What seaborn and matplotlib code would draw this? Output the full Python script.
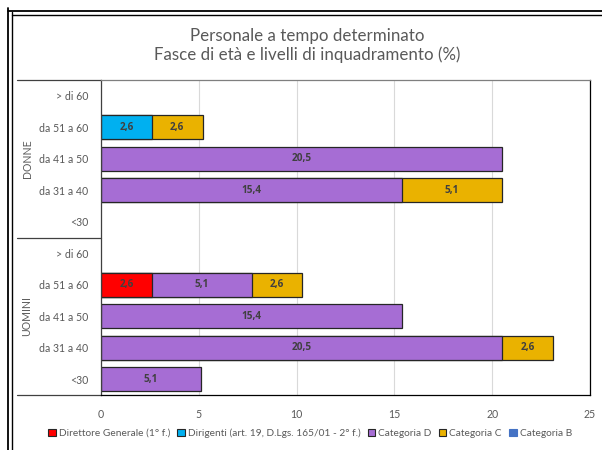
import matplotlib
matplotlib.use("Agg")
import matplotlib.pyplot as plt
import matplotlib.transforms as mtransforms
from matplotlib.patches import Patch
from matplotlib.lines import Line2D
import seaborn as sns
import pandas as pd
import numpy as np

# ---- data ----
groups = ["DONNE"] * 5 + ["UOMINI"] * 5
age_bands = ["> di 60", "da 51 a 60", "da 41 a 50", "da 31 a 40", "<30"] * 2
series_names = ["Direttore Generale (1° f.)", "Dirigenti (art. 19, D.Lgs. 165/01 - 2° f.)",
                "Categoria D", "Categoria C", "Categoria B"]
dir_generale = [0, 0, 0, 0, 0, 0, 2.6, 0, 0, 0]
dirigenti = [0, 2.6, 0, 0, 0, 0, 0, 0, 0, 0]
categoria_d = [0, 0, 20.5, 15.4, 0, 0, 5.1, 15.4, 20.5, 5.1]
categoria_c = [0, 2.6, 0, 5.1, 0, 0, 2.6, 0, 2.6, 0]
categoria_b = [0, 0, 0, 0, 0, 0, 0, 0, 0, 0]
colors = ["#FF0000", "#00B0F0", "#A66DD4", "#EAB200", "#4472C4"]
x_ticks = [0, 5, 10, 15, 20, 25]

series = [dir_generale, dirigenti, categoria_d, categoria_c, categoria_b]
keys = [f"{g}|{a}" for g, a in zip(groups, age_bands)]

sns.set_style("white")
plt.rcParams["font.family"] = ["Lato", "DejaVu Sans"]

fig = plt.figure(figsize=(6.02, 4.5), dpi=100)
W, H = 602, 450
ax = fig.add_axes([101 / W, 1 - 395 / H, (590 - 101) / W, (395 - 80) / H])

vals = np.array(series, dtype=float)  # shape (5, 10)
cum = np.cumsum(vals, axis=0)

# draw layers from the last to the first (cumulative overlay = stacked)
for k in range(len(series) - 1, -1, -1):
    df = pd.DataFrame({"key": keys, "value": cum[k], "seg": vals[k]})
    df = df[df["seg"] > 0]
    if df.empty:
        continue
    sns.barplot(data=df, x="value", y="key", order=keys, orient="h",
                color=colors[k], saturation=1, width=0.77,
                edgecolor="#262626", linewidth=0.9, ax=ax)

# data labels
for k in range(len(series)):
    for i in range(len(keys)):
        v = vals[k, i]
        if v > 0:
            center = cum[k, i] - v / 2
            ax.text(center, i, f"{v:.1f}".replace(".", ","), ha="center", va="center",
                    fontsize=7.2, fontweight="bold", color="#404040",
                    family=["Open Sans", "DejaVu Sans"])

ax.set_xlim(0, 25)
ax.set_ylim(len(keys) - 0.5, -0.5)
ax.set_xticks(x_ticks)
ax.set_xticklabels([str(t) for t in x_ticks])
ax.set_yticks(range(len(keys)))
ax.set_yticklabels(age_bands)
ax.set_xlabel("")
ax.set_ylabel("")
ax.tick_params(axis="both", length=0, labelsize=7.6, labelcolor="#595959")
ax.tick_params(axis="x", pad=10)
ax.tick_params(axis="y", pad=9)
ax.grid(axis="x", color="#D9D9D9", linewidth=0.8)
ax.set_axisbelow(True)
for s in ["top", "right", "bottom"]:
    ax.spines[s].set_color("#000000")
    ax.spines[s].set_linewidth(0.9)
ax.spines["top"].set_color("#7F7F7F")
ax.spines["left"].set_color("#404040")
ax.spines["left"].set_linewidth(0.9)

# group separators and labels
blend = mtransforms.blended_transform_factory(ax.transAxes, ax.transData)
x0 = (17 - 101) / (590 - 101)
for yy in [-0.5, 4.5, 9.5]:
    ax.add_line(Line2D([x0, 0], [yy, yy], transform=blend, color="#404040",
                       linewidth=0.9, clip_on=False))
xg = (27 - 101) / (590 - 101)
for name, yc in [("DONNE", 2), ("UOMINI", 7)]:
    ax.text(xg, yc, name, transform=blend, rotation=90, ha="center", va="center",
            fontsize=7.6, color="#595959")

# title
fig.text(307 / W, 1 - 36 / H, "Personale a tempo determinato", ha="center", va="center",
         fontsize=12.2, color="#595959")
fig.text(307 / W, 1 - 55 / H, "Fasce di età e livelli di inquadramento (%)", ha="center",
         va="center", fontsize=12.2, color="#595959")

# legend
handles = []
for name, c in zip(series_names, colors):
    ec = "#262626" if name != "Categoria B" else c
    handles.append(Patch(facecolor=c, edgecolor=ec, linewidth=0.8, label=name))
fig.legend(handles=handles, loc="center", bbox_to_anchor=(310 / W, 1 - 433 / H), ncol=5,
           frameon=False, fontsize=7.3, labelcolor="#595959", handlelength=0.75,
           handleheight=0.75, handletextpad=0.3, columnspacing=0.7, borderpad=0)

# outer double frame
for off, lw in [(8, 1.3), (11.5, 1.0)]:
    fig.add_artist(Line2D([off / W, off / W], [0, 1 - off / H], transform=fig.transFigure,
                          color="black", linewidth=lw))
    fig.add_artist(Line2D([off / W, 1], [1 - (off + 3) / H, 1 - (off + 3) / H],
                          transform=fig.transFigure, color="black", linewidth=lw))

fig.savefig("out.png", dpi=100)
